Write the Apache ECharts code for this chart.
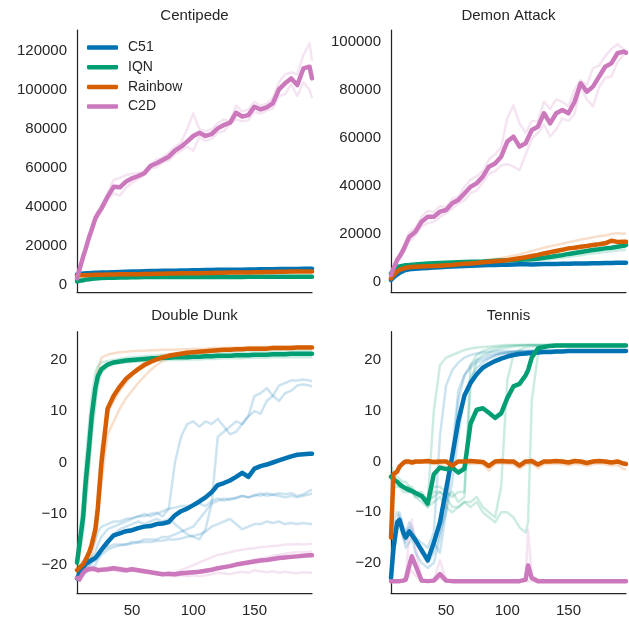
<!DOCTYPE html>
<html><head><meta charset="utf-8">
<script src="https://cdn.jsdelivr.net/npm/echarts@6/dist/echarts.min.js"></script>
<style>html,body{margin:0;padding:0;background:#fff}#c{width:629px;height:620px}</style>
</head><body><div id="c"></div>
<script>
// x positions (training iterations)
const X = [5,7,10,12,15,17,20,22,25, 30,35,40,45,50,55,60,65,70,75, 80,85,90,95,100,105,110,115,120,125, 130,135,140,145,150,155,160,165,170,175, 180,185,190,195,197];
const XT = [5,7,10,12,15,17,20,22,25, 30,35,40,45,50,55,60,65,70,75, 80,85,90,95,100,105,110,115,117,120,125, 130,135,140,145,150,155,160,165,170,175, 180,185,190,195,197];
const xTicks = [50,100,150];
const yTicksCent = [0,20000,40000,60000,80000,100000,120000];
const yTicksDemon = [0,20000,40000,60000,80000,100000];
const yTicksSmall = [-20,-10,0,10,20];
const algos = ['C51','IQN','Rainbow','C2D'];
const titles = ['Centipede','Demon Attack','Double Dunk','Tennis'];

// ---- Centipede ----
const cenC51 = [5500,5700,6000,6100,6200,6300,6400,6400,6500, 6600,6700,6800,6900,7000,7100,7200,7300,7300,7400, 7500,7500,7600,7600,7700,7700,7800,7800,7900,7900, 8000,8000,8000,8100,8100,8200,8200,8200,8300,8300, 8400,8400,8500,8500,8500];
const cenIQN = [2000,2300,2600,2900,3100,3300,3500,3600,3700, 3800,3900,4000,4000,4100,4100,4200,4200,4200,4200, 4300,4300,4300,4300,4300,4300,4300,4300,4300,4300, 4300,4300,4300,4400,4400,4400,4400,4400,4400,4400, 4400,4400,4400,4400,4400];
const cenRainbow = [5000,5100,5200,5200,5300,5300,5400,5400,5400, 5500,5500,5600,5600,5700,5700,5800,5800,5900,5900, 6000,6000,6100,6100,6200,6200,6300,6300,6400,6400, 6500,6500,6600,6600,6700,6700,6800,6800,6900,6900, 7000,7000,7100,7100,7100];
const cenC2D = [3500,8000,14600,18500,24900,28500,34300,36500,39400, 45400,50500,50200,53100,54800,56000,57400,61100,62500,64200, 65900,69000,71000,73600,76500,78200,76500,77500,80400,82100, 83300,88400,86400,87200,91500,90100,91200,93200,100400,103500, 106000,102600,111100,112000,106000];
const cenC2Da = [3000,9000,15500,19500,26000,30000,35500,38000,41000, 47000,54000,55000,56500,57000,57500,58000,62000,64500,65500, 68000,71000,73000,80000,88000,80000,79000,80000,83000,85000, 84000,92000,89000,90000,94000,92000,93000,96000,104000,108000, 109000,108000,118000,124000,115000];
const cenC2Db = [3000,7000,13500,17500,23500,27000,33000,35000,38000, 44000,47000,46000,50000,52500,54500,56500,60000,60500,63000, 64000,67000,69000,71000,69000,76000,74000,75000,78000,79000, 82500,85000,84000,84500,89000,88000,89500,90500,97000,98000, 103000,97000,104000,100000,96000];

// ---- Demon Attack ----
const demC51 = [700,1800,3000,3700,4500,4900,5200,5300,5400, 5600,5700,5900,6000,6200,6300,6500,6600,6700,6800, 6900,6950,7000,7050,7100,7200,7300,7250,7200,7300, 7400,7400,7400,7450,7500,7550,7600,7650,7700,7750, 7800,7850,7900,7900,7900];
const demIQN = [3500,4800,6000,6400,6700,6900,7000,7100,7200, 7400,7600,7700,7800,7900,8000,8100,8200,8300,8350, 8400,8550,8700,8850,9000,9100,9200,9300,9350,9600, 10000,10300,10700,11100,11600,12000,12400,12800,13200,13500, 13900,14200,14600,15000,15300];
const demIQNa = [3000,4300,5500,6000,6300,6500,6700,6800,6900, 7100,7300,7400,7500,7600,7700,7800,7900,8000,8000, 8100,8200,8300,8400,8500,8600,8700,8800,8900,9000, 9200,9400,9700,10000,10300,10700,11000,11400,11800,12100, 12400,12700,13000,13200,13400];
const demRainbow = [1400,2800,4200,5000,5500,5800,6000,6100,6200, 6400,6500,6550,6700,6850,7000,7250,7450,7650,7850, 8100,8350,8550,8750,9000,9350,9750,10200,10700,11200, 11800,12300,12800,13300,13900,14200,14600,14900,15300,15600, 16000,17100,16600,16700,16700];
const demRainbowA = [1500,3000,4500,5200,5700,6000,6200,6300,6400, 6600,6700,6800,6900,7100,7300,7600,7900,8200,8500, 8900,9300,9600,9900,10300,10800,11400,12100,12800,13500, 14200,14800,15300,15800,16500,17000,17600,18000,18500,19000, 19300,19900,20300,20000,20200];
const demC2D = [2800,5500,9050,10500,13200,15500,18800,19500,20900, 25000,27100,27100,29200,29900,32700,34100,36800,39600,41000, 43800,47950,49300,52100,58400,60450,56300,57700,63200,64600, 70200,66000,70200,71600,70200,75000,82700,79200,81300,85450, 89600,91000,95200,95900,95500];
const demC2Da = [3000,6500,10000,11500,14500,17000,20500,21500,22500, 27000,29500,29000,31500,31000,34500,35500,39500,42500,44000, 46000,51000,53000,56000,68000,73500,66000,62000,67000,67000, 75000,72000,76000,75000,73000,80000,84000,82000,89000,90000, 94000,97000,99000,97000,96000];
const demC2Db = [2500,4500,8000,9500,12000,14000,17000,17500,19500, 23000,24500,25000,27000,28500,30500,32500,34000,37000,38000, 41500,45000,46000,48500,49000,48000,46500,53000,59500,62000, 65500,60500,63500,68000,67000,70000,81000,76000,73000,81000, 85000,85500,91500,94500,95000];

// ---- Double Dunk ----
const ddC51 = [-22.6,-21.5,-20.5,-19.8,-19.3,-19,-18.6,-18,-17, -15.5,-14.2,-13.8,-13.4,-13.2,-12.8,-12.5,-12.4,-12,-11.9, -11.6,-10.3,-9.5,-9,-8.3,-7.6,-6.8,-5.8,-4.4,-4, -3.5,-2.8,-2,-2.8,-1.2,-0.7,-0.4,0,0.4,0.8, 1.2,1.5,1.6,1.7,1.7];
const ddC51a = [-23,-22,-20,-19,-18,-17,-15,-13.5,-12.5, -12,-11.5,-11.5,-11,-10.8,-10.5,-10.5,-10,-9.8,-10.5, -9,0,5,7.5,8,7,8,7.5,8.5,7, 5.5,6,7.5,9,13,13.5,14.5,13,15,15.5, 16,16,16.2,16,15.8];
const ddC51b = [-23,-22.5,-21,-20.5,-20,-19.5,-19,-18.5,-17.5, -16,-14,-13,-12.5,-12,-11.5,-12,-11.5,-11,-11.5, -11,-12,-13,-14,-14.5,-15,-13,-8,5,6, 7,8,7.5,9,10,9.5,12,13,12,13.5, 14,15,15.2,15,14.8];
const ddC51c = [-23,-22,-21,-20,-19,-18.5,-17.5,-16,-14.5, -13,-12.5,-12,-11.5,-11,-10.5,-10,-10.5,-10,-9.5, -9,-8.8,-8.5,-8.5,-8.3,-8,-8.5,-7.5,-7,-7.5, -7,-7,-6.5,-6.8,-6.5,-6,-6.5,-6.3,-6,-6.2, -6,-6.5,-6.2,-5.5,-5.3];
const ddC51d = [-23,-22.5,-21.5,-21,-20,-19.5,-19,-18,-17, -16.5,-16,-16,-16,-15.5,-15.5,-15,-15,-15,-14.5, -14.5,-14,-13.5,-13,-12.5,-11,-9.5,-8,-7.5,-7, -7.3,-6.8,-6.5,-6.8,-6.3,-6.5,-6,-6.3,-6.5,-6.8, -6.5,-6.8,-6.5,-6.2,-6];
const ddC51e = [-23,-22.5,-22,-21.5,-21,-20.5,-20,-19,-18, -17,-16.5,-16.2,-16,-15.8,-15.6,-15.5,-15.5,-15.3,-15.2, -15,-15,-14.8,-14.5,-14.3,-14,-13.5,-12.5,-12,-11.5, -11,-12,-13,-12.5,-12,-12,-11.5,-11.8,-11.5,-12, -11.8,-12,-11.8,-12,-12];
const ddIQN = [-19.5,-16,-10.6,-4,3.5,9,14.5,16.8,18.2, 19.1,19.5,19.7,19.9,20,20.1,20.2,20.3,20.3,20.4, 20.4,20.5,20.5,20.5,20.6,20.6,20.7,20.7,20.8,20.8, 20.8,20.9,20.9,20.9,21,21,21,21.1,21.1,21.1, 21.2,21.2,21.2,21.2,21.2];
const ddIQNa = [-19,-14,-7,0,8,13,17.5,18.8,19.5, 19.8,20,20.2,20.4,20.5,20.6,20.7,20.8,20.9,21, 21,21.1,21.1,21.2,21.2,21.3,21.3,21.4,21.4,21.5, 21.5,21.5,21.6,21.6,21.6,21.7,21.7,21.7,21.8,21.8, 21.8,21.8,21.8,21.8,21.8];
const ddIQNb = [-20,-18,-14,-9,-1,5,11,15,17.5, 18.7,19.2,19.4,19.5,19.6,19.7,19.8,19.8,19.9,19.9, 20,20,20,20.1,20.1,20.1,20.2,20.2,20.2,20.3, 20.3,20.3,20.3,20.4,20.4,20.4,20.4,20.5,20.5,20.5, 20.5,20.5,20.5,20.5,20.5];
const ddRainbow = [-21,-20.5,-19.8,-19,-17.5,-16,-13,-9,0, 10.5,13,14.8,16.3,17.3,18.2,19,19.6,20.1,20.5, 20.8,21,21.2,21.4,21.5,21.6,21.7,21.8,21.9,22, 22,22.1,22.1,22.2,22.2,22.2,22.2,22.3,22.3,22.3, 22.3,22.4,22.4,22.4,22.4];
const ddRainbowA = [-21,-18,-12,-7,0,6,14,18,20.5, 21,21.3,21.5,21.6,21.7,21.8,21.8,21.9,21.9,22, 22,22,22.1,22.1,22.2,22.2,22.2,22.3,22.3,22.3, 22.4,22.4,22.4,22.5,22.5,22.5,22.5,22.6,22.6,22.6, 22.6,22.6,22.6,22.6,22.6];
const ddRainbowB = [-21,-21,-20.5,-20,-19,-18,-15,-11,-4, 5.5,8,10.5,12.5,14,15.5,16.8,18,19,19.8, 20.3,20.7,21,21.3,21.5,21.6,21.7,21.8,21.9,22, 22,22.1,22.1,22.2,22.2,22.2,22.3,22.3,22.3,22.4, 22.4,22.4,22.4,22.4,22.4];
const ddRainbowC = [-21,-20.5,-20,-19.5,-18,-16.5,-12,-6,3, 9.5,12,14,15.5,17,18.5,19.5,20.2,20.6,20.9, 21.1,21.3,21.5,21.6,21.7,21.8,21.9,22,22,22.1, 22.1,22.2,22.2,22.2,22.3,22.3,22.3,22.3,22.4,22.4, 22.4,22.4,22.5,22.5,22.5];
const ddC2D = [-22.5,-22.8,-21.5,-21,-20.8,-20.7,-20.8,-21,-20.9, -20.8,-20.6,-20.8,-21,-20.8,-21,-21.2,-21.4,-21.6,-21.8, -21.7,-21.8,-21.6,-21.5,-21.4,-21.3,-21.1,-20.9,-20.6,-20.4, -20.2,-19.9,-19.7,-19.5,-19.3,-19.1,-19,-18.8,-18.6,-18.5, -18.4,-18.3,-18.2,-18.1,-18.1];
const ddC2Da = [-22.5,-23,-22,-21.5,-21,-21,-21,-21.2,-21, -20.5,-20.3,-20.5,-20.8,-21,-21.2,-21.5,-21.5,-21.8,-22, -21.8,-21.5,-21,-20.5,-20,-19.5,-19,-18.5,-18,-17.8, -17.5,-17.2,-17,-16.8,-16.7,-16.5,-16.4,-16.3,-16.2,-16, -16,-15.9,-16,-15.9,-15.8];
const ddC2Db = [-22.5,-22.5,-21,-20.5,-20.5,-20.3,-20.5,-20.8,-20.8, -21,-20.5,-20.8,-21,-20.6,-20.8,-21,-21.3,-21.5,-21.8, -21.8,-22,-21.8,-21.8,-21.6,-21.5,-21.3,-21,-20.8,-20.5, -20.3,-20,-19.6,-19.2,-18.9,-18.7,-18.5,-18.2,-18,-17.8, -17.6,-17.5,-17.5,-17.4,-17.4];
const ddC2Dc = [-22.5,-23,-21.5,-21,-21,-20.8,-21,-21.2,-21, -21,-21,-21.2,-21.3,-21,-21.2,-21.3,-21.5,-21.6,-21.8, -22,-22.2,-22,-22.2,-22,-22.2,-22,-21.8,-21.5,-21.6, -21.8,-21.5,-21.3,-21.5,-21,-21.2,-21.4,-21.2,-21.5,-21.3, -21.5,-21.6,-21.4,-21.5,-21.5];

// ---- Tennis (x = XT) ----
const tenC51 = [-23,-17,-12,-11.5,-14,-15,-13.8,-14.5,-15.5, -17.5,-19.5,-16,-12,-5.5,1,8,13,15.5,17.2, 18.5,19.2,19.8,20.3,20.7,21,21.2,21.3,21.35,21.4,21.5, 21.6,21.6,21.7,21.7,21.8,21.8,21.8,21.8,21.8,21.8, 21.8,21.8,21.8,21.8,21.8];
const tenC51a = [-23,-12,-10,-11,-13,-14,-12,-13,-15, -16,-17,-14,5,15,18,19.5,20.5,21,21.3, 21.5,21.6,21.7,21.8,21.8,21.8,21.8,21.8,21.8,21.8,21.8, 21.8,21.8,21.8,21.8,21.8,21.8,21.8,21.8,21.8,21.8, 21.8,21.8,21.8,21.8,21.8];
const tenC51b = [-23,-18,-14,-12,-15,-17,-16,-15,-18, -20,-21,-20,-15,-8,0,12,17,19,20, 20.5,21,21.2,21.4,21.5,21.6,21.7,21.7,21.8,21.8,21.8, 21.8,21.8,21.8,21.8,21.8,21.8,21.8,21.8,21.8,21.8, 21.8,21.8,21.8,21.8,21.8];
const tenC51c = [-23,-20,-12,-10,-13,-14,-13,-14,-15, -18,-20,-18,-14,-10,-4,5,13,16.5,18.5, 19.5,20.3,20.8,21.2,21.4,21.5,21.6,21.7,21.7,21.8,21.8, 21.8,21.8,21.8,21.8,21.8,21.8,21.8,21.8,21.8,21.8, 21.8,21.8,21.8,21.8,21.8];
const tenC51d = [-23,-19,-13,-12,-15,-16,-14,-15,-16, -18,-19,-16,-18,-10,2,14,17,18.5,19.5, 20,20.5,21,21.3,21.5,21.6,21.7,21.7,21.8,21.8,21.8, 21.8,21.8,21.8,21.8,21.8,21.8,21.8,21.8,21.8,21.8, 21.8,21.8,21.8,21.8,21.8];
const tenIQN = [-3,-3.5,-4,-4.5,-5,-5.3,-5.6,-5.8,-6.2, -6.8,-8.3,-2.5,-1.2,-1.5,-1.2,-2.2,-1.4,7.5,10.2, 10.5,9.6,8.6,9.5,12.5,14.8,15.3,17,18,20.5,22.3, 22.6,22.8,22.9,22.9,22.9,22.9,22.9,22.9,22.9,22.9, 22.9,22.9,22.9,22.9,22.9];
const tenIQNa = [-1,-2,-3,-3.5,-4,-4,-5,-5,-6, -7,-8,10,19,20.5,21,21.5,22,22.3,22.5, 22.6,22.7,22.8,22.9,23,23,23,23,23,23,23, 23,23,23,23,23,23,23,23,23,23, 23,23,23,23,23];
const tenIQNb = [-2,-3,-4,-5,-5,-5.5,-6,-6,-7, -8,-9,-6,-6,-7,-6,-8,-7,19,21, 21.8,22.2,22.5,22.7,22.8,22.9,23,23,23,23,23, 23,23,23,23,23,23,23,23,23,23, 23,23,23,23,23];
const tenIQNc = [-3,-3,-4,-4,-5,-5,-5,-6,-6, -6,-8,-5,-5,-6,-7,-6,-6,15,20, 21,21.5,22,22.3,22.5,22.7,22.8,22.9,23,23,23, 23,23,23,23,23,23,23,23,23,23, 23,23,23,23,23];
const tenIQNd = [-4,-4,-4,-4.5,-5,-5.5,-6,-6,-6, -6.5,-7.5,-7,-6,-7,-9,-9,-8,-8,-7, -9,-10,-11,-5,16,21,22,22.5,22.6,22.7,22.8, 22.9,23,23,23,23,23,23,23,23,23, 23,23,23,23,23];
const tenIQNe = [-5,-5,-5,-5,-6,-6,-6,-6,-7, -7,-9,-8,-7,-9,-10,-9,-8,-9,-8, -10,-11,-12,-10,-10,-11,-13,-14,-12,12,21, 22.5,22.8,23,23,23,23,23,23,23,23, 23,23,23,23,23];
const tenRainbow = [-15,-2.5,-2,-1,-0.3,0,0,-0.2,0, 0,0.1,-0.1,0,0,-0.8,0,0,0.1,0, -0.1,-0.9,0,0.1,0,0,-0.8,0,0,0.1,-0.6, 0,0,0.1,0,-0.2,0.1,0,-0.3,0,0.1, 0,-0.2,0,-0.4,-0.5];
const tenRainbowA = [-14,-3,-1.5,-1,-0.5,-0.3,-0.5,-0.5,-0.3, -0.2,-0.3,-0.5,-0.5,-1,-1.5,-2,-0.8,-0.5,-0.4, -0.6,-1.8,-0.5,-0.3,-0.5,-0.6,-1.5,-0.6,-0.5,-0.4,-1.3, -0.6,-0.5,-0.4,-0.6,-0.8,-0.5,-0.6,-0.9,-0.6,-0.4, -0.6,-0.8,-0.7,-1.5,-1.6];
const tenC2D = [-23.6,-23.6,-23.6,-23.6,-23.5,-23.3,-20.5,-18.7,-20.5, -23.5,-23.6,-23.5,-22.2,-23.5,-23.6,-23.6,-23.6,-23.6,-23.6, -23.6,-23.6,-23.6,-23.6,-23.6,-23.6,-23.6,-23.3,-20.5,-23,-23.6, -23.6,-23.6,-23.6,-23.6,-23.6,-23.6,-23.6,-23.6,-23.6,-23.6, -23.6,-23.6,-23.6,-23.6,-23.6];
const tenC2Da = [-23.6,-23.6,-23.6,-23.6,-23.5,-22.5,-14,-11.5,-17, -23.3,-23.6,-23.5,-19.5,-23.4,-23.6,-23.6,-23.6,-23.6,-23.6, -23.6,-23.6,-23.6,-23.6,-23.6,-23.6,-23.6,-23,-13.5,-22.5,-23.6, -23.6,-23.6,-23.6,-23.6,-23.6,-23.6,-23.6,-23.6,-23.6,-23.6, -23.6,-23.6,-23.6,-23.6,-23.6];
const tenC2Db = [-23.6,-23.6,-23.6,-23.6,-23.6,-23.5,-22.5,-21.5,-22.5, -23.6,-23.6,-23.6,-23,-23.6,-23.6,-23.6,-23.6,-23.6,-23.6, -23.6,-23.6,-23.6,-23.6,-23.6,-23.6,-23.6,-23.6,-23.6,-23.6,-23.6, -23.6,-23.6,-23.6,-23.6,-23.6,-23.6,-23.6,-23.6,-23.6,-23.6, -23.6,-23.6,-23.6,-23.6,-23.6];

const COLORS = {C51:'#0173b2', IQN:'#029e73', Rainbow:'#d55e00', C2D:'#cc78bc'};
const FONT = "'Liberation Sans', Arial, sans-serif";
const INK = '#262626';

const panels = [
  {x:X, means:{C51:cenC51, IQN:cenIQN, Rainbow:cenRainbow, C2D:cenC2D}, runs:{C51:[], IQN:[], Rainbow:[], C2D:[cenC2Da,cenC2Db]}, ymin:-3600, ymax:130800, ticks:yTicksCent},
  {x:X, means:{C51:demC51, IQN:demIQN, Rainbow:demRainbow, C2D:demC2D}, runs:{C51:[], IQN:[demIQNa], Rainbow:[demRainbowA], C2D:[demC2Da,demC2Db]}, ymin:-4400, ymax:104900, ticks:yTicksDemon},
  {x:X, means:{C51:ddC51, IQN:ddIQN, Rainbow:ddRainbow, C2D:ddC2D}, runs:{C51:[ddC51a,ddC51b,ddC51c,ddC51d,ddC51e], IQN:[ddIQNa,ddIQNb], Rainbow:[ddRainbowA,ddRainbowB,ddRainbowC], C2D:[ddC2Da,ddC2Db,ddC2Dc]}, ymin:-25.5, ymax:25.5, ticks:yTicksSmall},
  {x:XT, means:{C51:tenC51, IQN:tenIQN, Rainbow:tenRainbow, C2D:tenC2D}, runs:{C51:[tenC51a,tenC51b,tenC51c,tenC51d], IQN:[tenIQNa,tenIQNb,tenIQNc,tenIQNd,tenIQNe], Rainbow:[tenRainbowA], C2D:[tenC2Da,tenC2Db]}, ymin:-26, ymax:25.6, ticks:yTicksSmall}
];

const gridPos = [
  {left:77, top:30, width:235, height:262.3},
  {left:391, top:30, width:235, height:262.3},
  {left:77, top:331.7, width:235, height:261.6},
  {left:391, top:331.7, width:235, height:261.6}
];
const titlePos = [[194.5,8.5],[508.5,8.5],[194.5,308],[508.5,308]];

function pts(xs, ys){ return xs.map((x,i)=>[x, ys[i]]); }
const bad = [];
const series = [];
panels.forEach((p, g) => {
  algos.forEach(a => {
    p.runs[a].forEach((r, k) => {
      if (r.length !== p.x.length) bad.push(g+':'+a+'run'+k+':'+r.length);
      series.push({type:'line', name:a+' run', xAxisIndex:g, yAxisIndex:g, data:pts(p.x, r),
        symbol:'none', silent:true, z:1,
        lineStyle:{color:COLORS[a], width:2.5, opacity:0.2, join:'round'}});
    });
  });
  algos.forEach(a => {
    const m = p.means[a];
    if (m.length !== p.x.length) bad.push(g+':'+a+':'+m.length);
    series.push({type:'line', name:a, xAxisIndex:g, yAxisIndex:g, data:pts(p.x, m),
      symbol:'none', silent:true, z:3,
      itemStyle:{color:COLORS[a]},
      lineStyle:{color:COLORS[a], width:4.5, cap:'round', join:'round'}});
  });
});

const axisLine = {show:true, onZero:false, lineStyle:{color:INK, width:1.25}};
const fmt = v => String(v).replace('-', '\u2212');

const option = {
  animation:false,
  backgroundColor:'#ffffff',
  textStyle:{fontFamily:FONT},
  title: titles.map((t,i)=>({text:t, left:titlePos[i][0], top:titlePos[i][1], textAlign:'center', padding:0,
    textStyle:{fontSize:15, fontWeight:'normal', color:INK, fontFamily:FONT}})),
  legend:{data:algos, orient:'vertical', left:87, top:40.5, itemWidth:31, itemHeight:4.5, itemGap:5.7,
    icon:'roundRect', selectedMode:false, padding:0,
    textStyle:{fontSize:14, color:INK, fontFamily:FONT, lineHeight:14, padding:[0,0,0,5]}},
  grid: gridPos.map(gp=>Object.assign({containLabel:false}, gp)),
  xAxis: panels.map((p,i)=>({type:'value', gridIndex:i, min:5, max:197,
    axisLine:axisLine, axisTick:{show:false}, splitLine:{show:false},
    axisLabel:{show:i>=2, customValues:xTicks, fontSize:15, color:INK, margin:10, fontFamily:FONT}})),
  yAxis: panels.map((p,i)=>({type:'value', gridIndex:i, min:p.ymin, max:p.ymax,
    axisLine:axisLine, axisTick:{show:false}, splitLine:{show:false},
    axisLabel:{customValues:p.ticks, formatter:fmt, fontSize:15, color:INK, margin:10, fontFamily:FONT}})),
  series: series,
  graphic: bad.length ? [{type:'text', left:200, top:300, style:{text:bad.join(' '), fill:'red', fontSize:12}}] : []
};
echarts.init(document.getElementById('c'), null, {renderer:'canvas'}).setOption(option);
</script></body></html>
